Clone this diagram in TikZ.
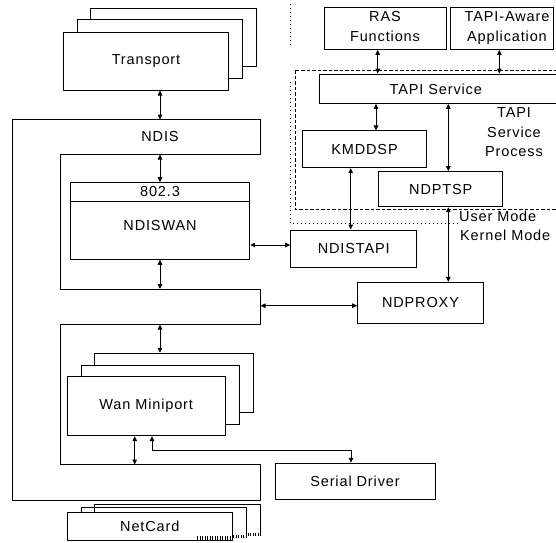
\documentclass[tikz,border=0pt]{standalone}
\usepackage{fontspec}
\setmainfont{Liberation Sans}[LetterSpace=6]
\usetikzlibrary{arrows.meta}

\tikzset{
  ln/.style={line width=1pt, draw=black},
  box/.style={ln, fill=white, inner sep=0pt, align=center},
  biarrow/.style={ln, {Triangle[length=5pt,width=4.5pt]}-{Triangle[length=5pt,width=4.5pt]}},
  dotline/.style={line width=1pt, dash pattern=on 1pt off 3pt},
  dashline/.style={line width=1pt, dash pattern=on 3.5pt off 2pt},
  ticks/.style={line width=3.5pt, dash pattern=on 0.9pt off 1.6pt},
  txt/.style={inner sep=0pt, align=center},
}

\begin{document}
\begin{tikzpicture}[x=1pt, y=-1pt, font=\fontsize{14.5}{20}\selectfont]
\useasboundingbox (0,0) rectangle (556,542);
\clip (0,0) rectangle (556,542);
\fill[white] (0,0) rectangle (556,542);

% user / kernel mode boundary
\draw[dotline] (290.7,4) -- (290.7,47);
\draw[dotline] (290.7,82) -- (290.7,223.3) -- (458,223.3);
\node[anchor=base west, inner sep=0pt] (umode) at (459,221.7) {User Mode};
\node[anchor=base west, inner sep=0pt] (kmode) at (460,240) {Kernel Mode};

% TAPI service process boundary
\draw[dashline] (295.7,70) -- (560,70);
\draw[dashline] (295.7,70) -- (295.7,209.3) -- (560,209.3);
\node[txt, font=\fontsize{14.5}{19.5}\selectfont] (tsp) at (514,132.3) {TAPI\\Service\\Process};

% transport stack
\node[box, minimum width=166pt, minimum height=58.4pt] (tr3) at (173.7,37.5) {};
\node[box, minimum width=165pt, minimum height=59pt] (tr2) at (160.2,48.8) {};
\node[box, minimum width=165.4pt, minimum height=57.7pt] (tr1) at (146,61.2) {Transport};

% NDIS wrapper
\draw[ln] (12.5,119.5) -| (260.5,154.5) -| (60,289) -| (260.5,324.5)
  -| (60,464.5) -| (260.5,500) -- (12.5,500) -- cycle;
\node[txt] (ndis) at (160,136.5) {NDIS};
\coordinate (ndisTop) at (160,119.5);
\coordinate (ndisBand) at (160,154.5);
\coordinate (ndisMidTop) at (160,289);
\coordinate (ndisMidRight) at (260.5,305.7);
\coordinate (ndisMidBot) at (160,324.5);
\coordinate (ndisLow) at (134.7,464.5);

% NDISWAN
\node[box, minimum width=179pt, minimum height=76.6pt] (ndiswan) at (160.2,221) {};
\draw[ln] (ndiswan.west |- 0,201) -- (ndiswan.east |- 0,201);
\node[txt] (e8023) at (160,192) {802.3};
\node[txt] (ndiswantxt) at (160,225.5) {NDISWAN};

% WAN miniport stack
\node[box, minimum width=159.3pt, minimum height=59pt] (wan3) at (173.7,382.8) {};
\node[box, minimum width=158.3pt, minimum height=59pt] (wan2) at (160.2,394.5) {};
\node[box, minimum width=158.3pt, minimum height=59pt] (wan1) at (146.2,406.2) {Wan Miniport};

% NetCard stack
\draw[ln] (94.3,536) |- (260.5,504.3) -- (260.5,533);
\draw[ln] (81.7,538) |- (246,507.7) -- (246,535);
\draw[ticks] (247.5,534.6) -- (260.5,534.6);
\draw[ticks] (233,536.4) -- (246,536.4);
\node[box, minimum width=165pt, minimum height=27.7pt] (netcard) at (149.8,526.2) {NetCard};
\draw[ticks] (197,538.2) -- (232,538.2);

% right-hand components
\node[box, minimum width=160pt, minimum height=36pt] (serial) at (355,481.3) {Serial Driver};
\node[box, minimum width=125.6pt, minimum height=41pt] (ndproxy) at (420.5,302.8) {NDPROXY};
\node[box, minimum width=126pt, minimum height=37.7pt] (ndistapi) at (353.7,248.9) {NDISTAPI};
\node[box, minimum width=124.4pt, minimum height=36.7pt] (kmddsp) at (364.5,149.3) {KMDDSP};
\node[box, minimum width=123.7pt, minimum height=35pt] (ndptsp) at (440.8,189.2) {NDPTSP};
\node[box, minimum width=240.7pt, minimum height=29.3pt] (tapi) at (439.7,88.7) {};
\node[txt] (tapitxt) at (435.8,89) {TAPI Service};
\node[box, minimum width=122pt, minimum height=42pt] (ras) at (385,28.3) {};
\node[txt] (rastxt) at (385,27) {RAS\\Functions};
\node[box, minimum width=103.3pt, minimum height=42pt] (aware) at (501.7,28.3) {};
\node[txt] (awaretxt) at (507,28) {TAPI-Aware\\Application};

% connector columns
\coordinate (colK) at (350.7,0);
\coordinate (colP) at (448.3,0);
\coordinate (colT) at (376,0);
\coordinate (colR) at (377.7,0);
\coordinate (colA) at (499.3,0);
\coordinate (rowL) at (0,245);
\coordinate (serialTap) at (152,450);

% connectors
\draw[biarrow] (tr1.south -| ndisTop) -- (ndisTop);
\draw[biarrow] (ndisBand) -- (ndiswan.north -| ndisBand);
\draw[biarrow] (ndiswan.south -| ndisBand) -- (ndisMidTop);
\draw[biarrow] (ndisMidBot) -- (wan3.north -| ndisMidBot);
\draw[biarrow] (wan1.south -| ndisLow) -- (ndisLow);
\draw[biarrow] (wan1.south -| serialTap) -- (serialTap) -| ([xshift=-4pt]serial.north);
\draw[biarrow] (ndisMidRight) -- (ndisMidRight -| ndproxy.west);
\draw[biarrow] (ndiswan.east |- rowL) -- (ndistapi.west |- rowL);
\draw[biarrow] (kmddsp.south -| colK) -- (ndistapi.north -| colK);
\draw[biarrow] (ndptsp.south -| colP) -- (ndproxy.north -| colP);
\draw[biarrow] (tapi.south -| colP) -- (ndptsp.north -| colP);
\draw[biarrow] (tapi.south -| colT) -- (kmddsp.north -| colT);
\draw[biarrow] (ras.south -| colR) -- (tapi.north -| colR);
\draw[biarrow] (aware.south -| colA) -- (tapi.north -| colA);
\end{tikzpicture}
\end{document}
